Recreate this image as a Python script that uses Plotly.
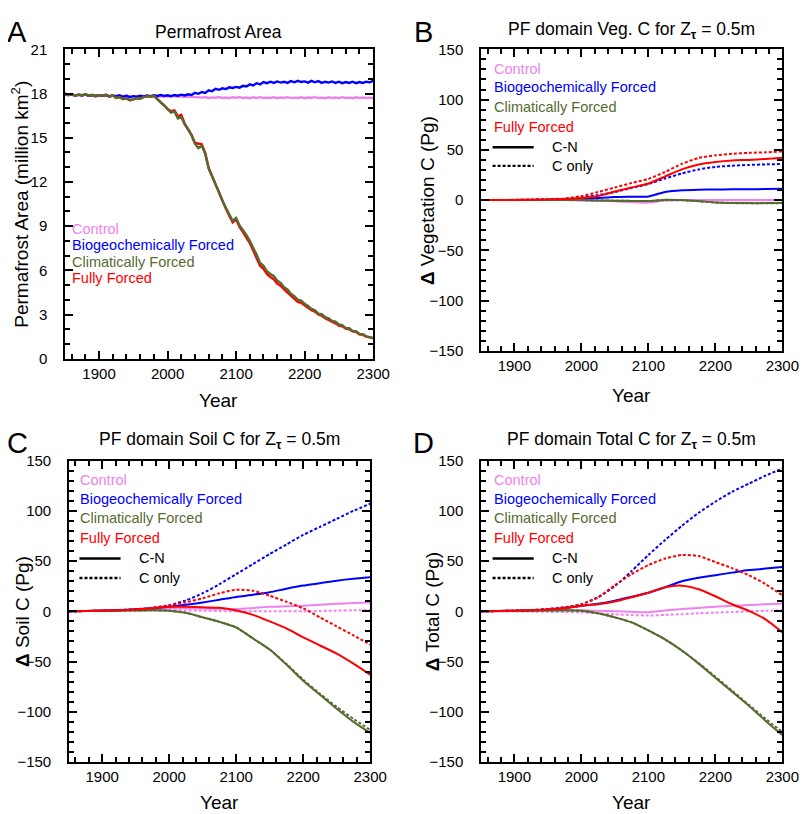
import plotly.graph_objects as go

W, H = 807, 814
FONT = "Liberation Sans, Arial, Helvetica, sans-serif"

PINK = "#EE82EE"
BLUE = "#0000FF"
GREEN = "#556B2F"
RED = "#FF0000"

# ---- Panel A: permafrost area (million km2), every 5 years 1850-2300
years_a = list(range(1850, 2301, 5))

area_control = [
    17.95, 17.88, 17.92, 17.85, 17.90, 17.86, 17.92, 17.84, 17.88, 17.82,
    17.86, 17.83, 17.88, 17.80, 17.85, 17.78, 17.83, 17.80, 17.85, 17.78,
    17.82, 17.79, 17.84, 17.80, 17.83, 17.78, 17.82, 17.77, 17.81, 17.78,
    17.83, 17.79, 17.82, 17.78, 17.81, 17.76, 17.80, 17.77, 17.79, 17.74,
    17.72, 17.76, 17.70, 17.74, 17.71, 17.76, 17.70, 17.73, 17.69, 17.74,
    17.71, 17.75, 17.70, 17.73, 17.68, 17.74, 17.70, 17.75, 17.69, 17.72,
    17.70, 17.74, 17.68, 17.73, 17.70, 17.75, 17.69, 17.72, 17.70, 17.74,
    17.68, 17.73, 17.71, 17.75, 17.69, 17.72, 17.68, 17.74, 17.70, 17.73,
    17.69, 17.75, 17.70, 17.72, 17.68, 17.74, 17.70, 17.73, 17.69, 17.72,
    17.70]
area_bgc = [
    17.98, 17.90, 17.94, 17.86, 17.92, 17.87, 17.93, 17.85, 17.90, 17.83,
    17.88, 17.84, 17.90, 17.80, 17.86, 17.82, 17.88, 17.78, 17.84, 17.76,
    17.82, 17.78, 17.85, 17.80, 17.86, 17.82, 17.88, 17.83, 17.90, 17.84,
    17.88, 17.82, 17.90, 17.85, 17.92, 17.87, 17.95, 17.90, 18.05, 17.98,
    18.10, 18.04, 18.22, 18.15, 18.32, 18.25, 18.35, 18.30, 18.42, 18.38,
    18.45, 18.40, 18.52, 18.48, 18.62, 18.55, 18.70, 18.62, 18.78, 18.70,
    18.80, 18.72, 18.82, 18.74, 18.80, 18.72, 18.84, 18.76, 18.86, 18.78,
    18.82, 18.74, 18.86, 18.76, 18.84, 18.72, 18.80, 18.74, 18.82, 18.72,
    18.80, 18.70, 18.78, 18.72, 18.80, 18.70, 18.78, 18.72, 18.80, 18.76,
    18.85]
area_clim = [
    18.00, 17.90, 17.95, 17.85, 17.92, 17.88, 17.95, 17.85, 17.90, 17.82,
    17.88, 17.85, 17.92, 17.80, 17.88, 17.70, 17.75, 17.62, 17.66, 17.55,
    17.60, 17.68, 17.64, 17.76, 17.82, 17.78, 17.84, 17.60, 17.40, 17.20,
    16.95, 16.70, 16.78, 16.30, 16.40, 15.90, 15.55, 15.15, 14.60, 14.30,
    14.45, 13.90, 12.90, 12.40, 11.90, 11.30, 10.70, 10.30, 9.80, 9.35,
    9.55, 9.05, 8.75, 8.40, 8.00, 7.55, 7.05, 6.50, 6.30, 5.95,
    5.75, 5.62, 5.30, 5.15, 4.85, 4.70, 4.40, 4.25, 4.00, 3.95,
    3.72, 3.58, 3.38, 3.28, 3.06, 3.02, 2.82, 2.74, 2.56, 2.52,
    2.32, 2.28, 2.08, 2.07, 1.88, 1.87, 1.68, 1.67, 1.52, 1.47,
    1.40]
area_full = [
    18.00, 17.90, 17.95, 17.85, 17.92, 17.88, 17.95, 17.85, 17.90, 17.82,
    17.88, 17.85, 17.92, 17.80, 17.88, 17.70, 17.75, 17.62, 17.66, 17.55,
    17.60, 17.68, 17.64, 17.76, 17.82, 17.78, 17.84, 17.60, 17.40, 17.20,
    16.95, 16.80, 16.85, 16.45, 16.55, 15.95, 15.60, 15.20, 14.65, 14.60,
    14.55, 13.95, 12.95, 12.40, 11.85, 11.25, 10.65, 10.20, 9.70, 9.25,
    9.45, 8.95, 8.60, 8.25, 7.85, 7.35, 6.85, 6.30, 6.10, 5.75,
    5.55, 5.40, 5.10, 4.95, 4.70, 4.50, 4.25, 4.05, 3.85, 3.80,
    3.60, 3.45, 3.30, 3.20, 3.00, 2.92, 2.75, 2.65, 2.50, 2.40,
    2.25, 2.20, 2.05, 2.00, 1.85, 1.82, 1.66, 1.62, 1.50, 1.45,
    1.40]

# ---- Panels B-D: change in carbon (Pg), every 25 years 1850-2300
years = list(range(1850, 2301, 25))

veg_ctl_cn = [0, 0, 0, 0, 0, 0, -0.3, -0.8, -1.2, -2.0, -2.5, -0.5, 0, 0, 0, 0, 0, 0, 0]
veg_ctl_c = [0, 0, 0, 0, 0, 0, -0.3, -0.8, -1.0, -1.5, -1.8, -0.5, 0, -0.2, -0.3, -0.3, -0.2, -0.2, -0.2]
veg_bgc_cn = [0, 0, 0.1, 0.2, 0.4, 0.6, 1.0, 2.0, 3.0, 3.3, 3.6, 8.0, 9.8, 10.4, 10.6, 10.7, 10.8, 11.0, 11.2]
veg_bgc_c = [0, 0, 0.2, 0.4, 0.8, 1.2, 3.0, 5.0, 8.0, 12.0, 16.0, 21.5, 26.5, 30.5, 33.0, 34.2, 35.0, 35.5, 36.0]
veg_clim_cn = [0, 0, 0, 0, 0, 0, 0, -0.3, -0.6, -0.8, -1.0, 0.3, 0, -1.0, -2.3, -2.8, -3.0, -3.0, -2.8]
veg_clim_c = [0, 0, 0, 0, 0, 0, 0, -0.3, -0.6, -0.8, -1.0, 0.2, -0.2, -1.2, -2.5, -3.0, -3.2, -3.2, -3.0]
veg_full_cn = [0, 0, 0.2, 0.3, 0.6, 1.0, 2.0, 4.0, 8.5, 12.5, 16.5, 23.5, 30.5, 35.5, 38.0, 39.5, 40.0, 41.0, 42.0]
veg_full_c = [0, 0, 0.3, 0.5, 1.0, 1.5, 4.0, 8.0, 12.5, 17.0, 21.0, 28.0, 36.0, 42.0, 44.5, 46.0, 47.0, 47.5, 48.5]

soil_ctl_cn = [0, 0.3, 0.6, 1.0, 1.5, 2.2, 3.0, 3.0, 2.8, 2.5, 2.3, 3.3, 4.5, 5.0, 5.5, 6.5, 7.5, 8.2, 8.8]
soil_ctl_c = [0, 0.2, 0.4, 0.6, 0.8, 1.0, 1.3, 1.0, 0.7, 0.3, 0, 0, 0, 0, 0, 0.3, 0.7, 1.0, 1.3]
soil_bgc_cn = [0, 0.3, 0.7, 1.2, 2.0, 3.0, 4.5, 6.5, 8.8, 11.5, 14.3, 16.5, 19.0, 22.5, 25.6, 28.0, 30.5, 32.5, 34.0]
soil_bgc_c = [0, 0.3, 0.7, 1.2, 2.0, 3.5, 6.0, 11.0, 18.0, 27.0, 37.0, 47.0, 57.0, 66.5, 76.0, 84.0, 92.0, 100.0, 107.0]
soil_clim_cn = [0, 0.2, 0.4, 0.6, 0.8, 1.0, 0.6, -1.5, -6.0, -10.5, -16.0, -27.0, -38.0, -53.0, -69.0, -83.0, -97.0, -110.0, -121.0]
soil_clim_c = [0, 0.2, 0.4, 0.6, 0.8, 1.0, 0.6, -1.5, -6.0, -10.5, -16.0, -27.0, -38.0, -52.5, -68.0, -82.0, -95.0, -107.0, -118.0]
soil_full_cn = [0, 0.3, 0.6, 1.0, 1.8, 3.0, 4.5, 4.5, 4.0, 3.5, 0.8, -3.5, -10.0, -17.0, -26.0, -34.0, -42.0, -52.0, -63.0]
soil_full_c = [0, 0.3, 0.7, 1.2, 2.0, 3.5, 6.0, 9.0, 13.0, 18.0, 21.5, 20.5, 15.5, 9.5, 3.0, -6.0, -15.0, -24.0, -33.0]

tot_ctl_cn = [0, 0, 0.2, 0.4, 0.6, 0.8, 1.0, 0.5, 0, -0.5, -0.8, 0.8, 2.3, 3.4, 4.5, 5.5, 6.3, 7.0, 7.8]
tot_ctl_c = [0, 0, 0, -0.3, -0.5, -0.8, -1.0, -2.0, -3.0, -3.7, -4.2, -3.5, -2.8, -2.0, -1.3, -0.7, 0, 0.5, 1.0]
tot_bgc_cn = [0, 0.3, 0.6, 1.0, 1.8, 3.0, 5.5, 7.5, 10.5, 14.5, 18.5, 24.0, 30.0, 33.5, 36.0, 38.5, 41.0, 42.5, 44.0]
tot_bgc_c = [0, 0.3, 0.7, 1.3, 2.2, 4.0, 7.0, 14.0, 25.0, 40.0, 56.0, 71.0, 85.0, 98.0, 109.0, 119.0, 127.0, 135.0, 142.0]
tot_clim_cn = [0, 0.2, 0.4, 0.6, 0.8, 1.0, 0.5, -2.0, -6.0, -11.0, -19.0, -28.0, -39.0, -52.0, -66.0, -80.0, -94.0, -109.0, -123.0]
tot_clim_c = [0, 0.2, 0.4, 0.6, 0.8, 1.0, 0.5, -2.0, -6.0, -11.0, -19.0, -28.0, -39.0, -51.5, -65.0, -79.0, -93.0, -107.0, -120.0]
tot_full_cn = [0, 0.3, 0.6, 1.0, 1.8, 3.0, 5.5, 7.0, 9.7, 14.0, 18.5, 24.0, 25.5, 22.0, 15.0, 7.0, 0.5, -8.0, -21.0]
tot_full_c = [0, 0.3, 0.7, 1.3, 2.2, 4.0, 7.0, 14.0, 26.0, 37.0, 46.0, 52.5, 56.0, 55.0, 49.0, 43.0, 36.0, 27.0, 16.0]

legend_names = ["Control", "Biogeochemically Forced", "Climatically Forced", "Fully Forced"]
legend_colors = [PINK, BLUE, GREEN, RED]


def px(x):
    return x / W


def py(y):
    return 1 - y / H


fig = go.Figure()

# panel A
for vals, col in [(area_control, PINK), (area_bgc, BLUE), (area_full, RED), (area_clim, GREEN)]:
    fig.add_trace(go.Scatter(x=years_a, y=vals, mode="lines",
                             line=dict(color=col, width=2.4), xaxis="x", yaxis="y"))

panels = [
    ("2", [veg_ctl_cn, veg_ctl_c, veg_bgc_cn, veg_bgc_c, veg_clim_cn, veg_clim_c, veg_full_cn, veg_full_c]),
    ("3", [soil_ctl_cn, soil_ctl_c, soil_bgc_cn, soil_bgc_c, soil_clim_cn, soil_clim_c, soil_full_cn, soil_full_c]),
    ("4", [tot_ctl_cn, tot_ctl_c, tot_bgc_cn, tot_bgc_c, tot_clim_cn, tot_clim_c, tot_full_cn, tot_full_c]),
]
for ax, series in panels:
    for i, vals in enumerate(series):
        col = legend_colors[i // 2]
        dash = "solid" if i % 2 == 0 else "3px,2px"
        fig.add_trace(go.Scatter(x=years, y=vals, mode="lines",
                                 line=dict(color=col, width=2, dash=dash, shape="spline", smoothing=0.6),
                                 xaxis="x" + ax, yaxis="y" + ax))

NBSP = "\u00a0"


def axis(domain, anchor, rng, dt, mdt, suffix=""):
    return dict(domain=domain, anchor=anchor, range=rng, dtick=dt, ticksuffix=suffix,
                ticks="inside", ticklen=8, tickwidth=2, tickcolor="#000000",
                minor=dict(dtick=mdt, ticks="inside", ticklen=5, tickwidth=2, tickcolor="#000000"),
                showline=True, linewidth=2, linecolor="black", mirror="ticks",
                showgrid=False, zeroline=False,
                tickfont=dict(family=FONT, size=15, color="black"))


ann = []


def text(x, y, s, size=14, color="black", xanchor="center", angle=0):
    ann.append(dict(x=px(x), y=py(y), xref="paper", yref="paper", text=s, showarrow=False,
                    xanchor=xanchor, yanchor="middle", textangle=angle,
                    font=dict(family=FONT, size=size, color=color)))


# panel letters
text(9, 15, "A", size=29)
text(424, 15, "B", size=29)
text(10, 435, "C", size=29)
text(424, 435, "D", size=29)

# titles
text(215, 15, "Permafrost Area", size=17.5)
text(637, 14, "PF domain Veg. C for Z<sub><b>τ</b></sub> = 0.5m", size=17.5)
text(216, 433, "PF domain Soil C for Z<sub><b>τ</b></sub> = 0.5m", size=17.5)
text(637, 433, "PF domain Total C for Z<sub><b>τ</b></sub> = 0.5m", size=17.5)

# axis titles
text(12, 191, "Permafrost Area (million km<sup>2</sup>)", size=19, angle=-90)
text(428, 187, "<b>Δ</b> Vegetation C (Pg)", size=19, angle=-90)
text(15, 607, "<b>Δ</b> Soil C (Pg)", size=19, angle=-90)
text(433, 607, "<b>Δ</b> Total C (Pg)", size=19, angle=-90)
text(215, 392, "Year", size=19)
text(637, 387, "Year", size=19)
text(216, 802, "Year", size=19)
text(637, 802, "Year", size=19)

# legends
shapes = []
legend_spots = [(63, [217, 233, 250, 267], None),
                (494, [53, 72, 92, 112], [133, 152]),
                (72, [473, 492, 512, 532], [553, 573]),
                (494, [473, 492, 512, 532], [553, 573])]
for x0, ys, lys in legend_spots:
    for name, col, yy in zip(legend_names, legend_colors, ys):
        text(x0, yy, name, size=14.5, color=col, xanchor="left")
    if lys:
        for lbl, dash, yy in zip(["C-N", "C only"], ["solid", "3px,2px"], lys):
            shapes.append(dict(type="line", xref="paper", yref="paper",
                               x0=px(x0 + 1), x1=px(x0 + 43), y0=py(yy), y1=py(yy),
                               line=dict(color="black", width=2.4, dash=dash)))
            text(x0 + 60, yy, lbl, size=14.5, xanchor="left")

yr = [1850, 2300]
pg = [-150, 150]
sfx = NBSP * 3
fig.update_layout(
    width=W, height=H, margin=dict(l=0, r=0, t=0, b=0),
    paper_bgcolor="white", plot_bgcolor="white", showlegend=False,
    xaxis=axis([px(58), px(373)], "y", yr, 100, 20),
    yaxis=axis([py(349), py(33)], "x", [0, 21], 3, 1, sfx),
    xaxis2=axis([px(483), px(791)], "y2", yr, 100, 20),
    yaxis2=axis([py(341), py(33)], "x2", pg, 50, 10, sfx),
    xaxis3=axis([px(62), px(370)], "y3", yr, 100, 20),
    yaxis3=axis([py(761), py(453)], "x3", pg, 50, 10, sfx),
    xaxis4=axis([px(483), px(791)], "y4", yr, 100, 20),
    yaxis4=axis([py(761), py(453)], "x4", pg, 50, 10, sfx),
    annotations=ann, shapes=shapes,
)

fig.write_html("out.html")
